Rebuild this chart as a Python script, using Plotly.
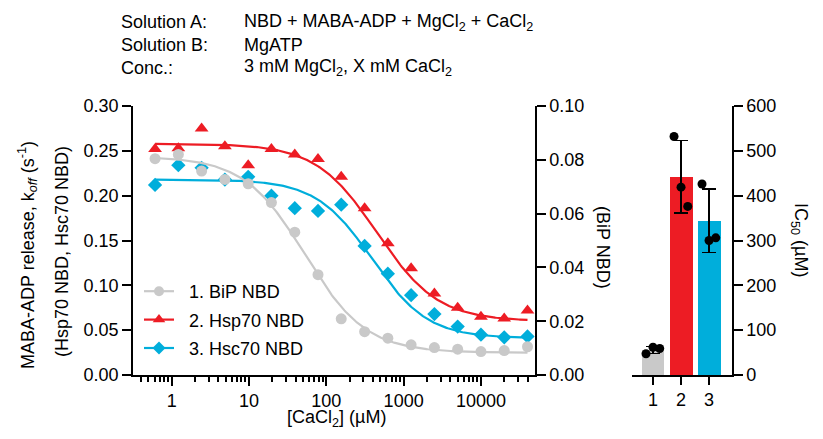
import numpy as np
import plotly.graph_objects as go

# the page body has an 8px margin, so the figure is drawn 8px smaller and
# reference pixel positions are shifted by that amount
OFF = 8
W, H = 823 - 2 * OFF, 439 - 2 * OFF
FONT = "Arial, Liberation Sans, sans-serif"


def fx(p):
    return (p - OFF) / W


def fy(p):
    return (H - (p - OFF)) / H


# CaCl2 concentrations (uM), 2-fold dilution series
conc = [0.61, 1.22, 2.44, 4.88, 9.77, 19.5, 39.1, 78.1, 156, 313, 625,
        1250, 2500, 5000, 10000, 20000, 40000]

# koff values (s^-1)
bip_koff = [0.0804, 0.0820, 0.0758, 0.0727, 0.0711, 0.0641, 0.0531, 0.0373, 0.0209,
            0.0161, 0.0137, 0.0112, 0.0102, 0.0096, 0.0087, 0.0091, 0.0105]
hsp70_koff = [0.252, 0.253, 0.275, 0.255, 0.234, 0.252, 0.246, 0.241, 0.221,
              0.186, 0.147, 0.119, 0.091, 0.075, 0.065, 0.063, 0.072]
hsc70_koff = [0.212, 0.234, 0.231, 0.218, 0.221, 0.200, 0.186, 0.183, 0.190,
              0.144, 0.113, 0.089, 0.068, 0.054, 0.045, 0.042, 0.043]

# fitted dose-response parameters: top, bottom, IC50 (uM), hill slope
bip_fit = [0.0812, 0.0083, 53, 1.1]
hsp70_fit = [0.258, 0.060, 450, 1.1]
hsc70_fit = [0.218, 0.041, 390, 1.2]

# IC50 replicates (uM)
bar_labels = [1, 2, 3]
ic50_reps = [[47.5, 62, 59], [532, 419, 376], [426, 300, 306]]
jitter = [-0.25, 0.0, 0.24]

GRAY, RED, BLUE = "#C9C9C9", "#ED1C24", "#00AEDB"


def dose_response(x, p):
    top, bottom, ic50, h = p
    return bottom + (top - bottom) / (1 + (x / ic50) ** h)


xfit = np.logspace(np.log10(conc[0]), np.log10(conc[-1]), 300)

fig = go.Figure()

series = [
    ("1. BiP NBD", bip_koff, bip_fit, GRAY, "circle", 11, "y2"),
    ("2. Hsp70 NBD", hsp70_koff, hsp70_fit, RED, "triangle-up", 12, "y"),
    ("3. Hsc70 NBD", hsc70_koff, hsc70_fit, BLUE, "diamond", 11, "y"),
]
for name, ys, p, col, sym, sz, yax in series:
    fig.add_trace(go.Scatter(x=xfit, y=dose_response(xfit, p), mode="lines",
                             line=dict(color=col, width=2.2), yaxis=yax,
                             showlegend=False, hoverinfo="skip"))
    fig.add_trace(go.Scatter(x=conc, y=ys, mode="markers", yaxis=yax,
                             marker=dict(color=col, symbol=sym, size=sz),
                             showlegend=False))
    # legend entry (nbsp pads the gap between sample and label)
    fig.add_trace(go.Scatter(x=[None], y=[None], mode="lines+markers",
                             name="\u00a0\u00a0" + name,
                             line=dict(color=col, width=2.2), legendgroup=name,
                             marker=dict(color=col, symbol=sym, size=sz - 1)))

# IC50 bars
means = [np.mean(r) for r in ic50_reps]
sds = [np.std(r, ddof=1) for r in ic50_reps]
fig.add_trace(go.Bar(x=bar_labels, y=means, width=0.82,
                     marker=dict(color=[GRAY, RED, BLUE], line=dict(width=0)),
                     error_y=dict(type="data", array=sds, color="black",
                                  thickness=1.5, width=7),
                     xaxis="x3", yaxis="y3", showlegend=False))
px_, py_ = [], []
for lab, reps in zip(bar_labels, ic50_reps):
    for j, v in zip(jitter, reps):
        px_.append(lab + j)
        py_.append(v)
fig.add_trace(go.Scatter(x=px_, y=py_, mode="markers", xaxis="x3", yaxis="y3",
                         marker=dict(color="black", size=9), showlegend=False))

minor = [m * 10 ** d for d in range(-1, 5) for m in range(2, 10)]
minor = [v for v in minor if 0.35 < v <= 40000]

ydom = [fy(375), fy(106)]
axis_common = dict(showline=True, linecolor="black", linewidth=1.5, ticks="outside",
                   tickcolor="black", tickwidth=1.5, showgrid=False, zeroline=False,
                   automargin=False, tickfont=dict(size=18, color="black"))

fig.update_layout(
    template="none",
    width=W, height=H,
    margin=dict(l=0, r=0, t=0, b=0, pad=0),
    paper_bgcolor="white", plot_bgcolor="white",
    font=dict(family=FONT, size=18, color="black"),
    xaxis=dict(domain=[fx(133), fx(535)], type="log", range=[-0.5, 4.699],
               tickvals=[1, 10, 100, 1000, 10000],
               ticktext=["1", "10", "100", "1000", "10000"], ticklen=9,
               minor=dict(tickvals=minor, ticks="outside", ticklen=5, tickwidth=1.5,
                          tickcolor="black", showgrid=False),
               anchor="y", **axis_common),
    yaxis=dict(domain=ydom, range=[0, 0.30], dtick=0.05, tickformat=".2f",
               ticklen=9, anchor="x", **axis_common),
    yaxis2=dict(overlaying="y", side="right", anchor="x", range=[0, 0.10],
                dtick=0.02, tickformat=".2f", ticklen=9, **axis_common),
    xaxis3=dict(domain=[fx(632), fx(732)], anchor="y3", range=[0.25, 3.82],
                tickvals=bar_labels, ticklen=8, **axis_common),
    yaxis3=dict(domain=ydom, anchor="x3", side="right", range=[0, 600],
                dtick=100, ticklen=9, **axis_common),
    legend=dict(x=fx(139), y=fy(273), xanchor="left", yanchor="top",
                bgcolor="rgba(0,0,0,0)", font=dict(size=18), tracegroupgap=2,
                itemwidth=30),
    bargap=0,
)


def label(x, y, text, angle=0, xanchor="center", yanchor="middle"):
    fig.add_annotation(x=fx(x), y=fy(y), xref="paper", yref="paper", text=text,
                       textangle=angle, showarrow=False, xanchor=xanchor,
                       yanchor=yanchor, borderpad=0)


# header text
rows = [("Solution A:", "NBD + MABA-ADP + MgCl<sub>2</sub> + CaCl<sub>2</sub>"),
        ("Solution B:", "MgATP"),
        ("Conc.:", "3 mM MgCl<sub>2</sub>, X mM CaCl<sub>2</sub>")]
for i, (a, b) in enumerate(rows):
    label(120, 22 + 23 * i, a, xanchor="left")
    label(243, 22 + 23 * i, b, xanchor="left")

# axis titles
label(27, 255, "MABA-ADP release, k<sub><i>off</i></sub> (s<sup>-1</sup>)", -90)
label(62, 251, "(Hsp70 NBD, Hsc70 NBD)", -90)
label(603, 247, "(BiP NBD)", 90)
label(800, 240, "IC<sub>50</sub> (µM)", 90)
label(336, 431, "[CaCl<sub>2</sub>] (µM)", yanchor="bottom")

fig.write_html("out.html")
